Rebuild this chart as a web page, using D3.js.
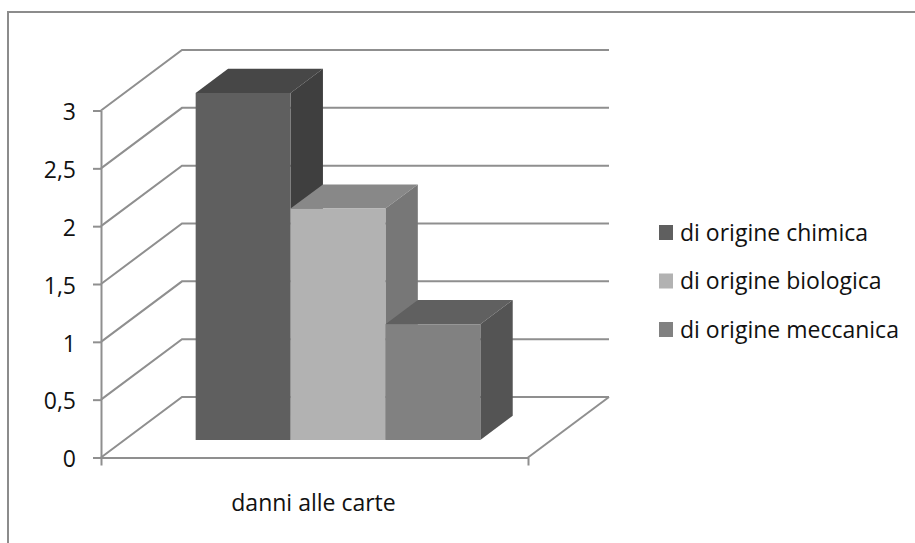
<!DOCTYPE html>
<html><head><meta charset="utf-8">
<script src="https://cdn.jsdelivr.net/npm/d3@7"></script>
<style>html,body{margin:0;padding:0;background:#fff}svg{display:block}text{font-family:"Open Sans",sans-serif;fill:#111}</style>
</head><body><svg id="c" width="915" height="543"></svg>
<script>
const category = "danni alle carte";
const seriesNames = ["di origine chimica","di origine biologica","di origine meccanica"];
const seriesValues = [3,2,1];
const tickValues = [0,0.5,1,1.5,2,2.5,3];
const frontColors = ["#5f5f5f","#b2b2b2","#818181"];
const topColors = ["#474747","#888888","#606060"];
const sideColors = ["#3f3f3f","#777777","#545454"];

const svg = d3.select("#c");
const lineCol = "#8f8f8f";
const fs = 23;
const y = d3.scaleLinear().domain([0,3]).range([457.5,110.5]);
const xFloor = d3.scaleLinear().domain([0,1]).range([101,528]);
const band = d3.scaleBand().domain(seriesNames).range([0,1]).paddingInner(0).paddingOuter(0.75);
const depthX = d3.scaleLinear().domain([0,1]).range([0,81]);
const depthY = d3.scaleLinear().domain([0,1]).range([0,-60.5]);
const P = (x,v,z)=>[xFloor(x)+depthX(z), y(v)+depthY(z)];
const path = d3.line();

// chart frame
svg.append("path").attr("d",path([[8,543],[8,12],[915,12]])).attr("fill","none").attr("stroke","#8c8c8c").attr("stroke-width",2);

// gridlines on side and back walls
svg.append("g").selectAll("path").data(tickValues).join("path")
  .attr("d",v=>path([P(0,v,0),P(0,v,1),P(1,v,1)]))
  .attr("fill","none").attr("stroke",lineCol).attr("stroke-width",2);
// floor right edge
svg.append("path").attr("d",path([P(1,0,1),P(1,0,0)])).attr("fill","none").attr("stroke",lineCol).attr("stroke-width",2);

// 3D bars
const z0=0.29, z1=0.69;
const bars = svg.append("g").selectAll("g").data(seriesNames).join("g");
bars.each(function(name,i){
  const g=d3.select(this), a=band(name), b=a+band.bandwidth(), v=seriesValues[i];
  g.append("path").attr("fill",topColors[i]).attr("d",path([P(a,v,z0),P(a,v,z1),P(b,v,z1),P(b,v,z0)])+"Z");
  g.append("path").attr("fill",sideColors[i]).attr("d",path([P(b,0,z0),P(b,0,z1),P(b,v,z1),P(b,v,z0)])+"Z");
  g.append("path").attr("fill",frontColors[i]).attr("d",path([P(a,0,z0),P(b,0,z0),P(b,v,z0),P(a,v,z0)])+"Z");
});

// value axis
const axL = svg.append("g").attr("transform","translate(101,0)")
  .call(d3.axisLeft(y).tickValues(tickValues).tickSize(8).tickPadding(17).tickSizeOuter(0).tickFormat(d=>String(d).replace(".",",")));
axL.selectAll("line,path").attr("stroke",lineCol).attr("stroke-width",2);
axL.selectAll("text").attr("font-size",fs).attr("fill","#111").attr("dy","0.4em");
axL.attr("font-family",null);

// category axis
const axB = svg.append("g").attr("transform","translate(0,457.5)")
  .call(d3.axisBottom(xFloor).tickValues([0,1]).tickSize(8).tickSizeOuter(0).tickFormat(""));
axB.selectAll("line,path").attr("stroke",lineCol).attr("stroke-width",2);
svg.append("text").attr("x",xFloor(0.5)-1).attr("y",511).attr("text-anchor","middle").attr("font-size",fs).text(category);

// legend
const legY = d3.scalePoint().domain(seriesNames).range([232.5,329.5]);
const leg = svg.append("g").selectAll("g").data(seriesNames).join("g").attr("transform",d=>`translate(659,${legY(d)})`);
leg.append("rect").attr("x",0).attr("y",-7.5).attr("width",14).attr("height",15).attr("fill",(d,i)=>frontColors[i]);
leg.append("text").attr("x",21).attr("y",8).attr("font-size",fs).text(d=>d);
</script></body></html>
